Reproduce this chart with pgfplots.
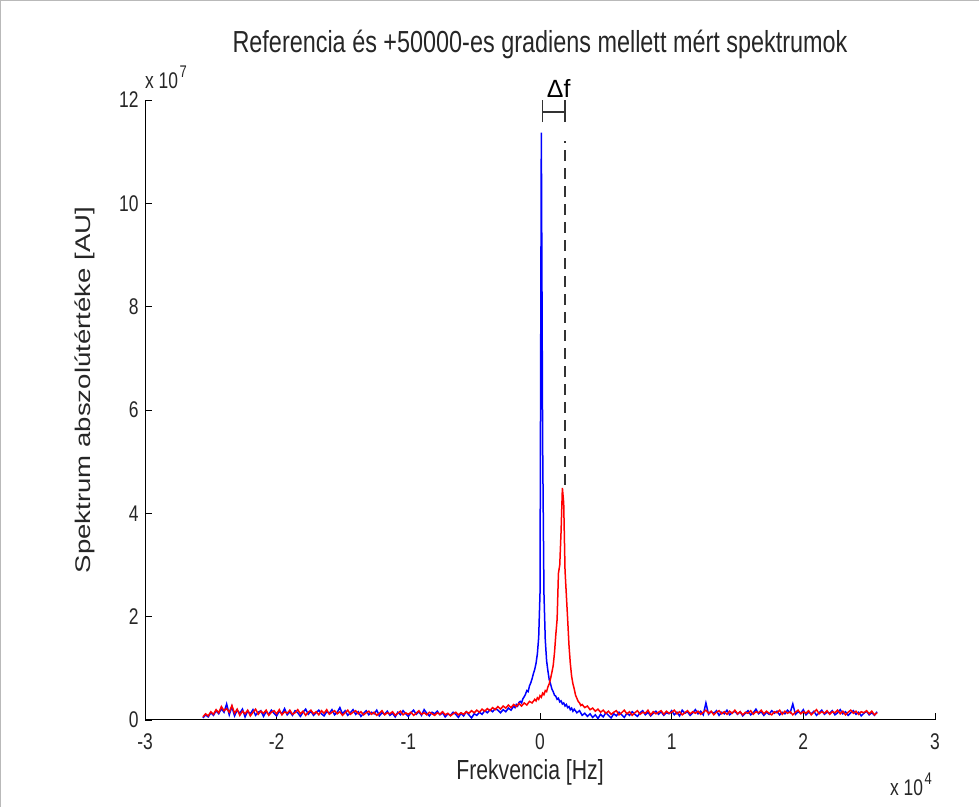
\documentclass[border=0pt]{standalone}
\usepackage{pgfplots}
\pgfplotsset{compat=1.18}
\usepackage{fontspec}
\setmainfont{Liberation Sans}
\newcommand\tkfont{\fontsize{17.5}{20}\selectfont}
\newcommand\lbfont{\fontsize{21.3}{24}\selectfont}
\newcommand\ttfont{\fontsize{23.5}{26}\selectfont}
\newcommand\V[1]{\scalebox{1}[1.3]{#1}}
\begin{document}
\begin{tikzpicture}[x=1bp,y=1bp]
\path[use as bounding box] (0,0) rectangle (979,807);
\draw[gray!55, line width=1.5bp] (0.75,0) -- (0.75,806.25) -- (979,806.25);
\begin{axis}[
 scale only axis, width=790bp, height=620bp,
 at={(145bp,87bp)}, anchor=south west,
 xmin=-30000, xmax=30000, ymin=0, ymax=12,
 axis x line*=bottom, axis y line*=left,
 axis line style={line width=1bp, black},
 scaled x ticks=false, scaled y ticks=false,
 xtick={-30000,-20000,-10000,0,10000,20000,30000},
 xticklabels={\V{-3},\V{-2},\V{-1},\V{0},\V{1},\V{2},\V{3}},
 ytick={0,2,4,6,8,10,12},
 yticklabels={\V{0},\V{2},\V{4},\V{6},\V{8},\V{10},\V{12}},
 tick align=inside, major tick length=7bp,
 tick style={line width=0.8bp, black},
 tick label style={font=\tkfont, text=black!85},
 xticklabel style={yshift=-10bp},
 yticklabel style={xshift=-3bp},
 /pgf/number format/assume math mode=true,
 clip=false,
]
\addplot[blue, line width=1.5bp] coordinates {
(-25600,0.04)(-25400,0.10)(-25200,0.06)(-25000,0.14)(-24800,0.09)(-24600,0.18)(-24400,0.12)(-24200,0.22)(-24000,0.15)(-23800,0.31)
(-23600,0.10)(-23400,0.26)(-23200,0.08)(-23000,0.19)(-22800,0.13)(-22600,0.21)(-22400,0.06)(-22200,0.17)(-22000,0.12)(-21800,0.20)
(-21600,0.09)(-21400,0.15)(-21200,0.18)(-21000,0.07)(-20800,0.16)(-20600,0.11)(-20400,0.19)(-20200,0.13)(-20000,0.08)(-19800,0.17)
(-19600,0.12)(-19400,0.22)(-19200,0.10)(-19000,0.16)(-18800,0.09)(-18600,0.18)(-18400,0.14)(-18200,0.07)(-18000,0.15)(-17800,0.21)
(-17600,0.11)(-17400,0.17)(-17200,0.09)(-17000,0.14)(-16800,0.19)(-16600,0.12)(-16400,0.08)(-16200,0.16)(-16000,0.13)(-15800,0.20)
(-15600,0.10)(-15400,0.15)(-15200,0.24)(-15000,0.12)(-14800,0.18)(-14600,0.09)(-14400,0.14)(-14200,0.20)(-14000,0.11)(-13800,0.16)
(-13600,0.07)(-13400,0.13)(-13200,0.18)(-13000,0.10)(-12800,0.15)(-12600,0.12)(-12400,0.19)(-12200,0.08)(-12000,0.14)(-11800,0.11)
(-11600,0.17)(-11400,0.09)(-11200,0.13)(-11000,0.06)(-10800,0.15)(-10600,0.10)(-10400,0.18)(-10200,0.12)(-10000,0.07)(-9800,0.14)
(-9600,0.19)(-9400,0.11)(-9200,0.16)(-9000,0.09)(-8800,0.20)(-8600,0.13)(-8400,0.08)(-8200,0.15)(-8000,0.12)(-7800,0.17)
(-7600,0.10)(-7400,0.14)(-7200,0.06)(-7000,0.12)(-6800,0.09)(-6600,0.15)(-6400,0.11)(-6200,0.05)(-6000,0.13)(-5800,0.08)
(-5600,0.16)(-5400,0.10)(-5200,0.04)(-5000,0.12)(-4800,0.09)(-4600,0.15)(-4400,0.11)(-4200,0.18)(-4000,0.14)(-3800,0.20)
(-3600,0.16)(-3400,0.22)(-3200,0.19)(-3000,0.14)(-2800,0.20)(-2600,0.16)(-2400,0.23)(-2200,0.19)(-2000,0.27)(-1900,0.24)
(-1800,0.30)(-1700,0.27)(-1600,0.34)(-1500,0.36)(-1400,0.33)(-1300,0.41)(-1200,0.45)(-1100,0.50)(-1000,0.57)(-900,0.55)
(-800,0.66)(-700,0.72)(-600,0.80)(-500,0.90)(-400,0.98)(-300,1.10)(-200,1.28)(-100,1.60)(0,2.45)(100,11.37)
(200,5.36)(300,2.45)(400,1.55)(500,1.15)(600,0.95)(700,0.78)(800,0.70)(900,0.60)(1000,0.55)(1100,0.48)
(1200,0.46)(1300,0.40)(1400,0.42)(1500,0.35)(1600,0.37)(1700,0.31)(1800,0.33)(1900,0.27)(2000,0.30)(2100,0.24)
(2200,0.26)(2300,0.20)(2400,0.23)(2500,0.17)(2600,0.21)(2800,0.14)(3000,0.18)(3200,0.09)(3400,0.13)(3600,0.07)
(3800,0.12)(4000,0.05)(4200,0.10)(4400,0.03)(4600,0.11)(4800,0.06)(5000,0.14)(5200,0.09)(5400,0.04)(5600,0.12)
(5800,0.08)(6000,0.15)(6200,0.10)(6400,0.05)(6600,0.13)(6800,0.09)(7000,0.16)(7200,0.11)(7400,0.07)(7600,0.14)
(7800,0.18)(8000,0.10)(8200,0.15)(8400,0.08)(8600,0.13)(8800,0.17)(9000,0.11)(9200,0.16)(9400,0.09)(9600,0.14)
(9800,0.12)(10000,0.18)(10200,0.10)(10400,0.15)(10600,0.08)(10800,0.19)(11000,0.13)(11200,0.16)(11400,0.09)(11600,0.14)
(11800,0.20)(12000,0.12)(12200,0.17)(12400,0.10)(12600,0.33)(12800,0.11)(13000,0.16)(13200,0.13)(13400,0.18)(13600,0.09)
(13800,0.15)(14000,0.12)(14200,0.19)(14400,0.10)(14600,0.14)(14800,0.17)(15000,0.11)(15200,0.16)(15400,0.08)(15600,0.13)
(15800,0.18)(16000,0.10)(16200,0.14)(16400,0.21)(16600,0.12)(16800,0.16)(17000,0.09)(17200,0.15)(17400,0.11)(17600,0.18)
(17800,0.13)(18000,0.17)(18200,0.10)(18400,0.15)(18600,0.12)(18800,0.19)(19000,0.14)(19200,0.31)(19400,0.11)(19600,0.16)
(19800,0.13)(20000,0.20)(20200,0.10)(20400,0.15)(20600,0.12)(20800,0.17)(21000,0.09)(21200,0.14)(21400,0.19)(21600,0.11)
(21800,0.15)(22000,0.13)(22200,0.18)(22400,0.10)(22600,0.14)(22800,0.20)(23000,0.12)(23200,0.16)(23400,0.09)(23600,0.14)
(23800,0.18)(24000,0.11)(24200,0.15)(24400,0.08)(24600,0.13)(24800,0.17)(25000,0.10)(25200,0.14)(25400,0.09)(25600,0.16)
};
\addplot[red, line width=1.5bp] coordinates {
(-25600,0.06)(-25400,0.12)(-25200,0.08)(-25000,0.16)(-24800,0.11)(-24600,0.20)(-24400,0.14)(-24200,0.26)(-24000,0.18)(-23800,0.22)
(-23600,0.15)(-23400,0.28)(-23200,0.13)(-23000,0.21)(-22800,0.09)(-22600,0.17)(-22400,0.12)(-22200,0.19)(-22000,0.08)(-21800,0.15)
(-21600,0.21)(-21400,0.11)(-21200,0.17)(-21000,0.13)(-20800,0.19)(-20600,0.09)(-20400,0.15)(-20200,0.18)(-20000,0.12)(-19800,0.20)
(-19600,0.10)(-19400,0.16)(-19200,0.13)(-19000,0.19)(-18800,0.11)(-18600,0.14)(-18400,0.20)(-18200,0.12)(-18000,0.17)(-17800,0.09)
(-17600,0.15)(-17400,0.19)(-17200,0.12)(-17000,0.16)(-16800,0.10)(-16600,0.18)(-16400,0.13)(-16200,0.20)(-16000,0.11)(-15800,0.15)
(-15600,0.18)(-15400,0.12)(-15200,0.16)(-15000,0.09)(-14800,0.14)(-14600,0.19)(-14400,0.11)(-14200,0.15)(-14000,0.18)(-13800,0.12)
(-13600,0.16)(-13400,0.10)(-13200,0.14)(-13000,0.17)(-12800,0.11)(-12600,0.15)(-12400,0.09)(-12200,0.13)(-12000,0.18)(-11800,0.10)
(-11600,0.14)(-11400,0.12)(-11200,0.16)(-11000,0.09)(-10800,0.13)(-10600,0.17)(-10400,0.10)(-10200,0.14)(-10000,0.11)(-9800,0.15)
(-9600,0.09)(-9400,0.13)(-9200,0.18)(-9000,0.11)(-8800,0.14)(-8600,0.10)(-8400,0.15)(-8200,0.12)(-8000,0.09)(-7800,0.14)
(-7600,0.11)(-7400,0.16)(-7200,0.10)(-7000,0.13)(-6800,0.08)(-6600,0.12)(-6400,0.15)(-6200,0.10)(-6000,0.14)(-5800,0.11)
(-5600,0.16)(-5400,0.13)(-5200,0.18)(-5000,0.14)(-4800,0.19)(-4600,0.15)(-4400,0.21)(-4200,0.17)(-4000,0.22)(-3800,0.18)
(-3600,0.24)(-3400,0.20)(-3200,0.26)(-3000,0.21)(-2800,0.27)(-2600,0.23)(-2400,0.29)(-2200,0.24)(-2000,0.30)(-1800,0.26)
(-1600,0.32)(-1400,0.27)(-1200,0.33)(-1000,0.29)(-800,0.36)(-600,0.33)(-400,0.40)(-300,0.37)(-200,0.43)(-100,0.40)
(0,0.47)(100,0.44)(200,0.52)(300,0.49)(400,0.57)(500,0.55)(600,0.64)(700,0.70)(800,0.80)(900,0.92)
(1000,1.05)(1100,1.30)(1200,1.65)(1300,1.95)(1400,2.84)(1500,3.00)(1600,3.65)(1700,4.49)(1800,4.20)(1900,2.90)
(2000,2.42)(2100,1.95)(2200,1.45)(2300,1.10)(2400,0.85)(2500,0.70)(2600,0.60)(2700,0.48)(2800,0.42)(2900,0.36)
(3000,0.33)(3100,0.28)(3200,0.30)(3400,0.24)(3600,0.27)(3800,0.20)(4000,0.23)(4200,0.17)(4400,0.21)(4600,0.15)
(4800,0.19)(5000,0.13)(5200,0.17)(5400,0.11)(5600,0.15)(5800,0.18)(6000,0.10)(6200,0.14)(6400,0.19)(6600,0.12)
(6800,0.16)(7000,0.09)(7200,0.14)(7400,0.18)(7600,0.11)(7800,0.15)(8000,0.13)(8200,0.19)(8400,0.10)(8600,0.16)
(8800,0.12)(9000,0.15)(9200,0.18)(9400,0.11)(9600,0.17)(9800,0.13)(10000,0.15)(10200,0.19)(10400,0.12)(10600,0.16)
(10800,0.10)(11000,0.14)(11200,0.18)(11400,0.12)(11600,0.16)(11800,0.13)(12000,0.17)(12200,0.11)(12400,0.15)(12600,0.19)
(12800,0.13)(13000,0.17)(13200,0.10)(13400,0.15)(13600,0.18)(13800,0.12)(14000,0.16)(14200,0.11)(14400,0.17)(14600,0.13)
(14800,0.19)(15000,0.12)(15200,0.16)(15400,0.10)(15600,0.15)(15800,0.13)(16000,0.18)(16200,0.11)(16400,0.16)(16600,0.14)
(16800,0.19)(17000,0.12)(17200,0.17)(17400,0.13)(17600,0.10)(17800,0.16)(18000,0.14)(18200,0.19)(18400,0.11)(18600,0.17)
(18800,0.13)(19000,0.16)(19200,0.10)(19400,0.15)(19600,0.19)(19800,0.12)(20000,0.16)(20200,0.13)(20400,0.18)(20600,0.10)
(20800,0.15)(21000,0.20)(21200,0.12)(21400,0.16)(21600,0.13)(21800,0.18)(22000,0.11)(22200,0.16)(22400,0.14)(22600,0.19)
(22800,0.12)(23000,0.17)(23200,0.10)(23400,0.15)(23600,0.19)(23800,0.13)(24000,0.17)(24200,0.11)(24400,0.16)(24600,0.14)
(24800,0.18)(25000,0.12)(25200,0.17)(25400,0.10)(25600,0.14)
};
\draw[black!80, line width=1.2bp, dash pattern=on 11bp off 7bp] (axis cs:1900,4.55) -- (axis cs:1900,11.2);
\draw[black!80, line width=1.3bp] (axis cs:200,11.77) -- (axis cs:1900,11.77);
\draw[black!80, line width=1.3bp] (axis cs:200,11.57) -- (axis cs:200,12.0);
\draw[black!80, line width=1.3bp] (axis cs:1900,11.57) -- (axis cs:1900,12.0);
\node[font=\fontsize{25}{28}\selectfont, anchor=center, inner sep=0pt] at (axis cs:1420,12.22) {Δf};
\node[font=\ttfont, anchor=center, text=black!85] at (rel axis cs:0.5,1) [yshift=56bp] {\V{Referencia és +50000-es gradiens mellett mért spektrumok}};
\node[font=\tkfont, anchor=base west, text=black!85, inner sep=0pt] at (rel axis cs:0,1) [yshift=11bp] {\V{x 10\hspace{1.5bp}\raisebox{9bp}{\fontsize{13}{13}\selectfont 7}}};
\node[font=\tkfont, anchor=base east, text=black!85, inner sep=0pt] at (rel axis cs:1,0) [yshift=-76bp, xshift=-3bp] {\V{x 10\hspace{1.5bp}\raisebox{9bp}{\fontsize{13}{13}\selectfont 4}}};
\node[font=\lbfont, anchor=center, text=black!85] at (rel axis cs:0.5,0) [xshift=-10bp, yshift=-52bp] {\V{Frekvencia [Hz]}};
\node[font=\lbfont, anchor=center, text=black!85, xshift=-60bp, yshift=20bp, rotate=90] at (rel axis cs:0,0.5) {\scalebox{1.3}[1]{Spektrum abszolútértéke [AU]}};
\end{axis}
\end{tikzpicture}
\end{document}
